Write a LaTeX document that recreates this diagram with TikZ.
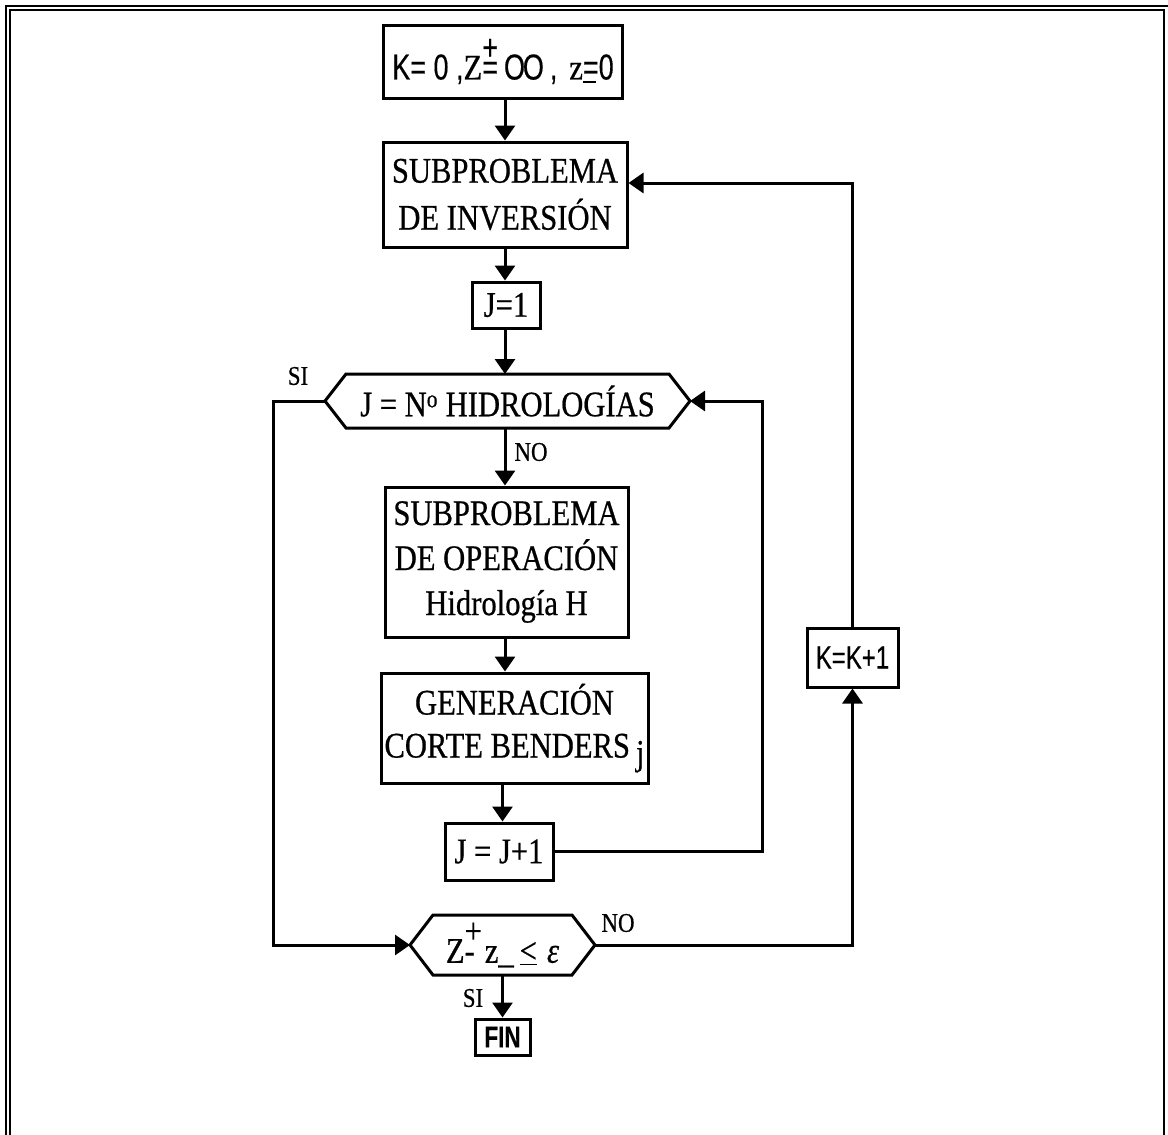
\documentclass[tikz,border=0pt]{standalone}
\usepackage{fontspec}
\setmainfont{Liberation Serif}[FakeStretch=0.85,FakeBold=0.6]
\newfontfamily\sanscond{Liberation Sans}[FakeStretch=0.75,FakeBold=0.4]
\usetikzlibrary{arrows.meta,calc}
\tikzset{
  box/.style={draw, line width=3pt, inner sep=0pt, align=center,
    font=\fontsize{36}{47}\selectfont},
  hexnode/.style={inner sep=0pt, outer sep=0pt, font=\fontsize{36}{40}\selectfont},
  hexline/.style={line width=3pt, line join=miter},
  conn/.style={line width=3pt},
  arr/.style={conn, -{Triangle[length=15pt,width=20pt]}},
  lbl/.style={inner sep=0pt, font=\fontsize{27}{27}\selectfont},
  frame/.style={line width=2.2pt}
}
\begin{document}
\begin{tikzpicture}[x=1pt,y=-1pt]
\useasboundingbox (0,0) rectangle (1168,1135);
% outer frame
\draw[frame] (6,1135) -- (6,6) -- (1168,6);
\draw[frame] (10,1135) -- (10,10) -- (1164,10) -- (1164,1135);

% nodes
\node[box, minimum width=239pt, minimum height=73pt] (init) at (503,61.5)
  {{\sanscond K= 0 ,}Z\makebox[0pt][l]{\raisebox{0.55em}{\sanscond +}}{\sanscond =}\,{\sanscond O\kern-0.06em O}\,{\sanscond ,}\,\,z\makebox[0pt][l]{\rule[-0.1em]{0.35em}{0.07em}}{\sanscond =0}};
\node[box, minimum width=244pt, minimum height=105pt] (inv) at (505,194.5)
  {SUBPROBLEMA\\DE INVERSIÓN};
\node[box, minimum width=68pt, minimum height=46pt] (j1) at (506,305) {J=1};
\node[hexnode, minimum width=365pt, minimum height=54pt] (h1) at (507.5,401)
  {J = N\textsuperscript{o} HIDROLOGÍAS};
\node[box, minimum width=243pt, minimum height=150pt,
  font=\fontsize{36}{45}\selectfont] (op) at (506.5,562)
  {SUBPROBLEMA\\DE OPERACIÓN\\Hidrología H};
\node[box, minimum width=267pt, minimum height=110pt,
  font=\fontsize{36}{43}\selectfont] (gen) at (514.5,728)
  {GENERACIÓN\\CORTE BENDERS\,\raisebox{-0.2em}{j}};
\node[box, minimum width=108pt, minimum height=57pt] (jj) at (499,851.5) {J = J+1};
\node[hexnode, minimum width=185pt, minimum height=60pt] (h2) at (502.5,945)
  {Z\makebox[0pt][l]{\raisebox{0.55em}{+}}-\;z\_\,\underline{<}\;\textit{ε}};
\node[box, minimum width=55pt, minimum height=36pt,
  font=\sanscond\bfseries\fontsize{30}{30}\selectfont] (fin) at (502.5,1037) {FIN};
\node[box, minimum width=91pt, minimum height=59pt,
  font=\sanscond\fontsize{32}{32}\selectfont] (kk) at (852.5,657.5) {K=K+1};

% hexagon outlines
\draw[hexline] (h1.west) -- ($(h1.north west)+(21,0)$) -- ($(h1.north east)+(-21,0)$)
  -- (h1.east) -- ($(h1.south east)+(-21,0)$) -- ($(h1.south west)+(21,0)$) -- cycle;
\draw[hexline] (h2.west) -- ($(h2.north west)+(23,0)$) -- ($(h2.north east)+(-23,0)$)
  -- (h2.east) -- ($(h2.south east)+(-23,0)$) -- ($(h2.south west)+(23,0)$) -- cycle;

% helper coordinates
\coordinate (rj) at (762,0);
\coordinate (lx) at (273,0);
\coordinate (fb) at (853,183);

% main column arrows
\draw[arr] (inv.north |- init.south) -- (inv.north);
\draw[arr] (inv.south) -- (inv.south |- j1.north);
\draw[arr] (inv.south |- j1.south) -- (inv.south |- h1.north);
\draw[arr] (inv.south |- h1.south) -- (inv.south |- op.north);
\draw[arr] (inv.south |- op.south) -- (inv.south |- gen.north);
\draw[arr] (h2.south |- gen.south) -- (h2.south |- jj.north);
\draw[arr] (h2.south) -- (fin.north);

% loops
\draw[arr] (jj.east) -- (jj.east -| rj) |- (h1.east);
\draw[arr] (h1.west) -- (h1.west -| lx) |- (h2.west);
\draw[arr] (h2.east) -- (h2.east -| kk.south) -- (kk.south);
\draw[arr] (kk.north) -- (kk.north |- fb) -- (fb -| inv.east);

% labels
\node[lbl] (si1) at (298,376) {SI};
\node[lbl] (no1) at (531,452) {NO};
\node[lbl] (no2) at (618,923) {NO};
\node[lbl] (si2) at (473,998) {SI};
\end{tikzpicture}
\end{document}
